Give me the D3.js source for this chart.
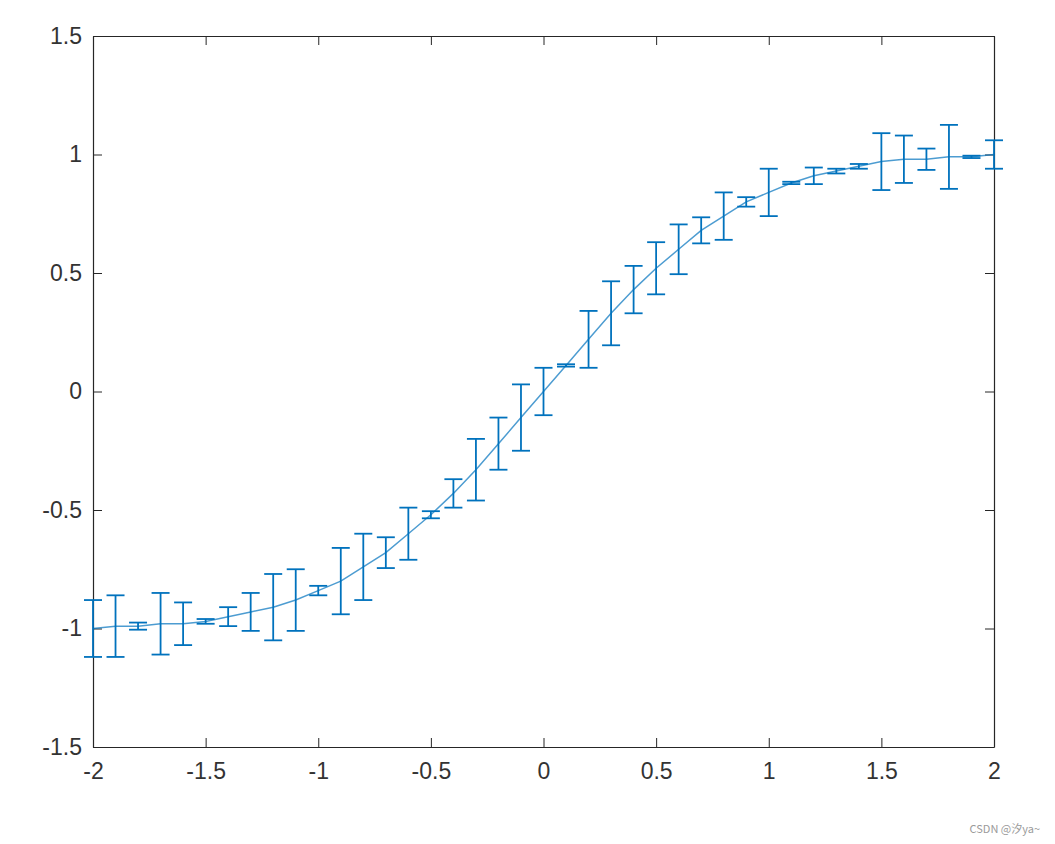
<!DOCTYPE html>
<html>
<head>
<meta charset="utf-8">
<script src="https://cdn.jsdelivr.net/npm/d3@7"></script>
<style>
  body { margin: 0; background: #fff; }
  svg { display: block; }
  .tick text { font-family: "Liberation Sans", Arial, sans-serif; font-size: 23px; fill: #333; }
</style>
</head>
<body>
<div id="chart"></div>
<script>
// data
const xs = [-2, -1.9, -1.8, -1.7, -1.6, -1.5, -1.4, -1.3, -1.2, -1.1, -1,
    -0.9, -0.8, -0.7, -0.6, -0.5, -0.4, -0.3, -0.2, -0.1, 0,
    0.1, 0.2, 0.3, 0.4, 0.5, 0.6, 0.7, 0.8, 0.9, 1,
    1.1, 1.2, 1.3, 1.4, 1.5, 1.6, 1.7, 1.8, 1.9, 2];
const ys = [-1.00, -0.99, -0.99, -0.98, -0.98, -0.97, -0.95, -0.93, -0.91, -0.88, -0.84,
    -0.80, -0.74, -0.68, -0.60, -0.52, -0.43, -0.33, -0.22, -0.11, 0,
    0.11, 0.22, 0.33, 0.43, 0.52, 0.60, 0.68, 0.74, 0.80, 0.84,
    0.88, 0.91, 0.93, 0.95, 0.97, 0.98, 0.98, 0.99, 0.99, 1.00];
const errs = [0.12, 0.13, 0.015, 0.13, 0.09, 0.01, 0.04, 0.08, 0.14, 0.13, 0.02,
    0.14, 0.14, 0.065, 0.11, 0.015, 0.06, 0.13, 0.11, 0.14, 0.10,
    0.005, 0.12, 0.135, 0.10, 0.11, 0.105, 0.055, 0.10, 0.02, 0.10,
    0.005, 0.035, 0.01, 0.01, 0.12, 0.10, 0.045, 0.135, 0.005, 0.06];
const xTicks = [-2, -1.5, -1, -0.5, 0, 0.5, 1, 1.5, 2];
const yTicks = [-1.5, -1, -0.5, 0, 0.5, 1, 1.5];

const width = 1055, height = 844;
const margin = {top: 36, right: 61, bottom: 97, left: 93};
const w = width - margin.left - margin.right;
const h = height - margin.top - margin.bottom;

const svg = d3.select("#chart").append("svg")
    .attr("width", width)
    .attr("height", height);

const g = svg.append("g")
    .attr("transform", "translate(" + margin.left + "," + margin.top + ")");

const x = d3.scaleLinear().domain([-2, 2]).range([0, w]);
const y = d3.scaleLinear().domain([-1.5, 1.5]).range([h, 0]);

const fmt = d => String(d);
const tickLen = 9;
const axisColor = "#262626";

// axes, ticks pointing inward on all four sides
const bottomAxis = g.append("g").attr("transform", "translate(0," + h + ")")
    .call(d3.axisBottom(x).tickValues(xTicks).tickFormat(fmt).tickSizeInner(-tickLen).tickSizeOuter(0).tickPadding(16));
const leftAxis = g.append("g")
    .call(d3.axisLeft(y).tickValues(yTicks).tickFormat(fmt).tickSizeInner(-tickLen).tickSizeOuter(0).tickPadding(11));
const topAxis = g.append("g")
    .call(d3.axisTop(x).tickValues(xTicks).tickFormat("").tickSizeInner(-tickLen).tickSizeOuter(0));
const rightAxis = g.append("g").attr("transform", "translate(" + w + ",0)")
    .call(d3.axisRight(y).tickValues(yTicks).tickFormat("").tickSizeInner(-tickLen).tickSizeOuter(0));

[bottomAxis, leftAxis, topAxis, rightAxis].forEach(a => {
    a.select(".domain").attr("stroke", axisColor).attr("stroke-width", 1.2);
    a.selectAll(".tick line").attr("stroke", axisColor).attr("stroke-width", 1);
});
bottomAxis.selectAll(".tick text").attr("dy", "0.71em");

const data = xs.map((d, i) => ({x: d, y: ys[i], e: errs[i]}));
const color = "#0072BD";

// connecting line
g.append("path")
    .datum(data)
    .attr("fill", "none")
    .attr("stroke", color)
    .attr("stroke-opacity", 0.7)
    .attr("stroke-width", 1.5)
    .attr("d", d3.line().x(d => x(d.x)).y(d => y(d.y)));

// error bars
const capHalf = 9;
const bars = g.selectAll(".err")
    .data(data)
    .enter().append("g")
    .attr("class", "err")
    .attr("stroke", color)
    .attr("stroke-width", 1.8);

bars.append("line")
    .attr("x1", d => x(d.x)).attr("x2", d => x(d.x))
    .attr("y1", d => y(d.y + d.e)).attr("y2", d => y(d.y - d.e));
bars.append("line")
    .attr("x1", d => x(d.x) - capHalf).attr("x2", d => x(d.x) + capHalf)
    .attr("y1", d => y(d.y + d.e)).attr("y2", d => y(d.y + d.e));
bars.append("line")
    .attr("x1", d => x(d.x) - capHalf).attr("x2", d => x(d.x) + capHalf)
    .attr("y1", d => y(d.y - d.e)).attr("y2", d => y(d.y - d.e));

// watermark
svg.append("text")
    .attr("x", 1040).attr("y", 833)
    .attr("text-anchor", "end")
    .style("font-family", "'Noto Sans CJK SC', sans-serif")
    .style("font-size", "11px")
    .style("fill", "#9a9a9a")
    .text("CSDN @汐ya~");
</script>
</body>
</html>
